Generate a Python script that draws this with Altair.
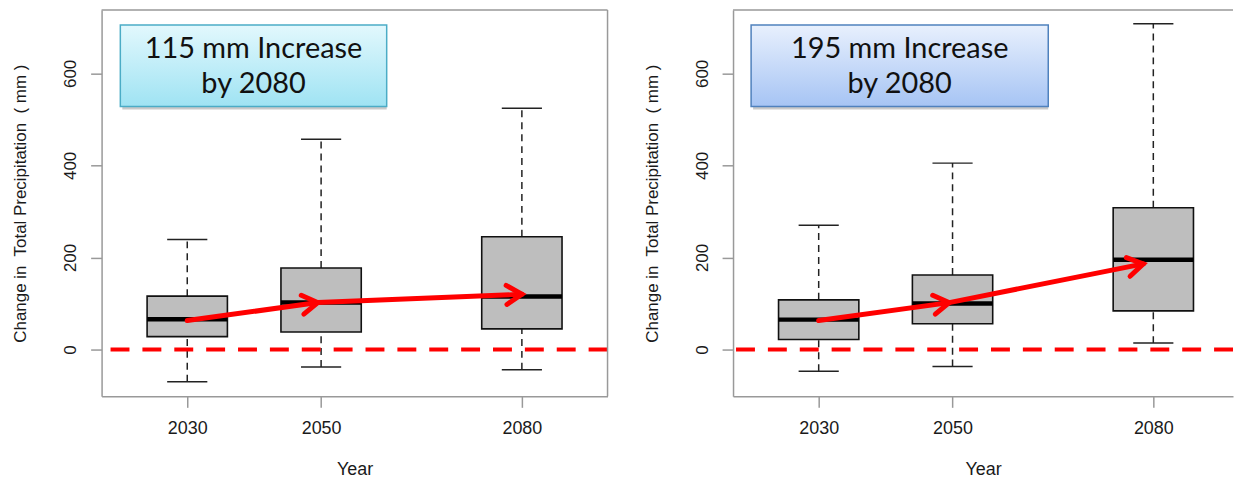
import math
import altair as alt
import pandas as pd

# Box-plot summaries of projected change in total precipitation (mm)
YEARS = [2030, 2050, 2080]

LEFT_LOWER = [-70, -38, -44]
LEFT_Q1 = [28, 38, 45]
LEFT_MEDIAN = [66, 102, 115]
LEFT_Q3 = [116, 177, 245]
LEFT_UPPER = [239, 457, 524]

RIGHT_LOWER = [-47, -37, 14]
RIGHT_Q1 = [22, 56, 84]
RIGHT_MEDIAN = [65, 100, 195]
RIGHT_Q3 = [108, 162, 308]
RIGHT_UPPER = [270, 405, 708]

# Trend arrows linking the medians
LEFT_ARROW_YEAR = [2030, 2049.5, 2080]
LEFT_ARROW_VALUE = [63, 102, 120]
RIGHT_ARROW_YEAR = [2030, 2049.5, 2078.5]
RIGHT_ARROW_VALUE = [63, 102, 186]

LEFT_NOTE = "115 mm Increase\nby 2080"
RIGHT_NOTE = "195 mm Increase\nby 2080"

Y_TICKS = [0, 200, 400, 600]

# Layout
H = 388
W_LEFT = 508
W_RIGHT = 502
YEAR_SPAN = 75.6
X0 = 2017.2
X_DOMAIN_LEFT = [X0, X0 + YEAR_SPAN]
X_DOMAIN_RIGHT = [X0, X0 + YEAR_SPAN * W_RIGHT / W_LEFT]
Y_DOMAIN = [-101.7, 737.8]
BOX_HALF = 6.0
CAP_HALF = 3.0

FRAME = "#999999"
FONT = "Liberation Sans"
Y_TITLE = "Change in\u00a0 Total Precipitation\u00a0 ( mm )"


def build_panel(lower, q1, med, q3, upper, ay, av, note, note_x, fill_stops,
                border, x_domain, width):
    stats = pd.DataFrame({"year": YEARS, "lower": lower, "q1": q1,
                          "median": med, "q3": q3, "upper": upper})
    base = alt.Chart(stats).transform_calculate(
        box_lo=f"datum.year - {BOX_HALF}", box_hi=f"datum.year + {BOX_HALF}",
        cap_lo=f"datum.year - {CAP_HALF}", cap_hi=f"datum.year + {CAP_HALF}",
    )

    xs = alt.Scale(domain=x_domain, nice=False, zero=False)
    ys = alt.Scale(domain=Y_DOMAIN, nice=False, zero=False)
    x_axis = alt.Axis(values=YEARS, format="d", title="Year", grid=False,
                      domain=True, domainColor=FRAME, domainWidth=1.5,
                      tickColor=FRAME, tickWidth=1.5, tickSize=11,
                      labelPadding=12, labelFontSize=18, titleFontSize=18,
                      titlePadding=23, labelFlush=False)
    y_axis = alt.Axis(values=Y_TICKS, title=Y_TITLE, grid=False,
                      domain=True, domainColor=FRAME, domainWidth=1.5,
                      tickColor=FRAME, tickWidth=1.5, tickSize=11,
                      labelAngle=270, labelAlign="center", labelBaseline="bottom",
                      labelPadding=11, labelFontSize=17, titleFontSize=17,
                      titlePadding=32, labelFlush=False)

    def X(f):
        return alt.X(f"{f}:Q", scale=xs, axis=x_axis)

    def Y(f):
        return alt.Y(f"{f}:Q", scale=ys, axis=y_axis)

    whisk_up = base.mark_rule(color="#222222", strokeWidth=1.5, strokeDash=[7, 5]).encode(
        x=X("year"), y=Y("q3"), y2="upper")
    whisk_dn = base.mark_rule(color="#222222", strokeWidth=1.5, strokeDash=[7, 5]).encode(
        x=X("year"), y=Y("lower"), y2="q1")
    cap_up = base.mark_rule(color="#222222", strokeWidth=1.5).encode(
        x=X("cap_lo"), x2="cap_hi", y=Y("upper"))
    cap_dn = base.mark_rule(color="#222222", strokeWidth=1.5).encode(
        x=X("cap_lo"), x2="cap_hi", y=Y("lower"))
    boxes = base.mark_rect(fill="#bebebe", stroke="#111111", strokeWidth=1.6).encode(
        x=X("box_lo"), x2="box_hi", y=Y("q1"), y2="q3")
    medians = base.mark_rule(color="black", strokeWidth=4.5).encode(
        x=X("box_lo"), x2="box_hi", y=Y("median"))

    zero = alt.Chart(pd.DataFrame({"v": [0]})).mark_rule(
        color="#ff0000", strokeWidth=4, strokeDash=[19, 13]).encode(y=Y("v"))

    # Arrow shafts and chevron heads
    ppy = width / (x_domain[1] - x_domain[0])
    ppm = H / (Y_DOMAIN[1] - Y_DOMAIN[0])
    path = pd.DataFrame({"year": ay, "value": av, "order": list(range(len(ay)))})
    heads = []
    for i in range(1, len(ay)):
        dx = (ay[i] - ay[i - 1]) * ppy
        dy = -(av[i] - av[i - 1]) * ppm
        heads.append({"year": ay[i], "value": av[i],
                      "angle": math.degrees(math.atan2(dy, dx)) % 360})
    shaft = alt.Chart(path).mark_line(color="#ff0000", strokeWidth=5, strokeCap="round").encode(
        x=X("year"), y=Y("value"), order="order:Q")
    head = alt.Chart(pd.DataFrame(heads)).mark_point(
        shape="M-1,-0.62L0,0L-1,0.62", filled=False, stroke="#ff0000", strokeWidth=5,
        size=950, opacity=1, strokeCap="round", strokeJoin="miter").encode(
        x=X("year"), y=Y("value"), angle=alt.Angle("angle:Q", scale=None))

    # Callout box (text anchored at its first line)
    nb = pd.DataFrame({"x0": [note_x[0]], "x1": [note_x[1]], "y0": [528], "y1": [705],
                       "xc": [(note_x[0] + note_x[1]) / 2], "yc": [653], "t": [note]})
    shadow = alt.Chart(nb).mark_rect(fill="#8a8a8a", opacity=0.45, xOffset=2, yOffset=3).encode(
        x=X("x0"), x2="x1", y=Y("y0"), y2="y1")
    card = alt.Chart(nb).mark_rect(
        fill=alt.LinearGradient(gradient="linear", x1=0, y1=0, x2=0, y2=1,
                                stops=[alt.GradientStop(offset=0, color=fill_stops[0]),
                                       alt.GradientStop(offset=1, color=fill_stops[1])]),
        stroke=border, strokeWidth=1.5).encode(x=X("x0"), x2="x1", y=Y("y0"), y2="y1")
    label = alt.Chart(nb).mark_text(font="Lato", fontSize=29, color="#111111",
                                    lineBreak="\n", lineHeight=35, baseline="middle").encode(
        x=X("xc"), y=Y("yc"), text="t:N")

    frame_top = alt.Chart(pd.DataFrame({"v": [0]})).mark_rule(color=FRAME, strokeWidth=1.5).encode(
        y=alt.value(0))
    layers = [whisk_up, whisk_dn, cap_up, cap_dn, boxes, medians, zero, shaft, head,
              shadow, card, label, frame_top]
    if width == W_LEFT:
        frame_right = alt.Chart(pd.DataFrame({"v": [0]})).mark_rule(
            color=FRAME, strokeWidth=1.5).encode(x=alt.value(width))
        layers.append(frame_right)
    return alt.layer(*layers).properties(width=width, height=H)


left = build_panel(LEFT_LOWER, LEFT_Q1, LEFT_MEDIAN, LEFT_Q3, LEFT_UPPER,
                   LEFT_ARROW_YEAR, LEFT_ARROW_VALUE, LEFT_NOTE, [2020.0, 2059.8],
                   ["#e2f8fd", "#9fe3f3"], "#4bacc6", X_DOMAIN_LEFT, W_LEFT)
right = build_panel(RIGHT_LOWER, RIGHT_Q1, RIGHT_MEDIAN, RIGHT_Q3, RIGHT_UPPER,
                    RIGHT_ARROW_YEAR, RIGHT_ARROW_VALUE, RIGHT_NOTE, [2019.9, 2064.3],
                    ["#e8f0fd", "#a6c4f4"], "#4f81bd", X_DOMAIN_RIGHT, W_RIGHT)

chart = alt.hconcat(left, right, spacing=33).properties(
    padding={"left": 11, "top": 8, "right": 0, "bottom": 0},
    background="white",
).configure_view(stroke=None).configure_axis(
    labelFont=FONT, titleFont=FONT, labelColor="#1a1a1a", titleColor="#1a1a1a",
    titleFontWeight="normal",
)

chart.save("out.html", embed_options={"renderer": "svg", "actions": False})
